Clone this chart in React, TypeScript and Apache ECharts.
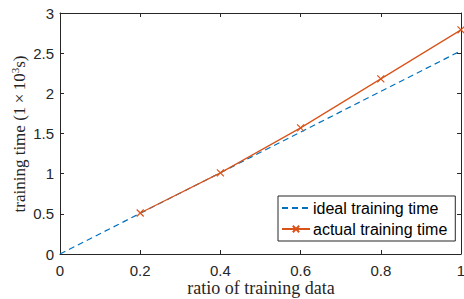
import React, { useEffect, useRef } from "react";
import * as echarts from "echarts";

const ratios = [0, 0.2, 0.4, 0.6, 0.8, 1.0];
const idealTime = [0, 0.506, 1.012, 1.518, 2.024, 2.53];
const actualRatios = [0.2, 0.4, 0.6, 0.8, 1.0];
const actualTime = [0.51, 1.01, 1.57, 2.18, 2.79];
const seriesNames = ["ideal training time", "actual training time"];
const xTitle = "ratio of training data";

const BLUE = "#0072BD";
const ORANGE = "#D95319";
const AX = "#262626";

export default function App() {
  const ref = useRef<HTMLDivElement>(null);
  useEffect(() => {
    const chart = echarts.init(ref.current!, null, { renderer: "svg" });
    const tickCommon = {
      axisLine: { show: true, onZero: false, lineStyle: { color: AX, width: 1 } },
      axisTick: { show: true, inside: true, length: 4, lineStyle: { color: AX, width: 1 } },
      splitLine: { show: false },
    };
    chart.setOption({
      animation: false,
      backgroundColor: "#fff",
      grid: { left: 60, right: 3, top: 13, bottom: 45, containLabel: false, outerBoundsMode: "none" },
      xAxis: [
        {
          type: "value",
          min: 0,
          max: 1,
          interval: 0.2,
          ...tickCommon,
          axisLabel: { color: AX, fontFamily: "Liberation Sans", fontSize: 15, margin: 9 },
        },
        {
          type: "value",
          position: "top",
          min: 0,
          max: 1,
          interval: 0.2,
          ...tickCommon,
          axisLabel: { show: false },
        },
      ],
      yAxis: [
        {
          type: "value",
          min: 0,
          max: 3,
          interval: 0.5,
          ...tickCommon,
          axisLabel: { color: AX, fontFamily: "Liberation Sans", fontSize: 15, margin: 6 },
        },
        {
          type: "value",
          position: "right",
          min: 0,
          max: 3,
          interval: 0.5,
          ...tickCommon,
          axisLabel: { show: false },
        },
      ],
      graphic: [
        {
          type: "text",
          x: 19,
          y: 134,
          rotation: Math.PI / 2,
          style: {
            text: "{a|training time (1\u2009×\u200910}{s|3}{a|s)}",
            align: "center",
            verticalAlign: "middle",
            rich: {
              a: { fill: AX, fontFamily: "Liberation Serif", fontSize: 17 },
              s: { fill: AX, fontFamily: "Liberation Serif", fontSize: 11, verticalAlign: "top", padding: [0, 0, 8, 0] },
            },
          },
        },
        {
          type: "text",
          x: 261,
          y: 288,
          style: {
            text: xTitle,
            align: "center",
            verticalAlign: "middle",
            fill: AX,
            fontFamily: "Liberation Serif",
            fontSize: 18,
          },
        },
      ],
      legend: {
        data: [
          { name: seriesNames[0], itemStyle: { color: "rgba(0,0,0,0)", borderWidth: 0, opacity: 0 } },
          { name: seriesNames[1] },
        ],
        orient: "vertical",
        left: 278,
        top: 196,
        itemWidth: 28,
        itemHeight: 8,
        itemGap: 5,
        padding: [4, 8, 4, 3],
        backgroundColor: "#fff",
        borderColor: AX,
        borderWidth: 1,
        borderRadius: 0,
        textStyle: { color: "#000", fontFamily: "Liberation Sans", fontSize: 16, padding: [0, 0, 0, -2] },
      },
      series: [
        {
          name: seriesNames[0],
          type: "line",
          data: ratios.map((r, i) => [r, idealTime[i]]),
          showSymbol: false,
          symbol: "none",
          lineStyle: { color: BLUE, width: 1.2, type: [6, 4] },
          itemStyle: { color: BLUE },
        },
        {
          name: seriesNames[1],
          type: "line",
          data: actualRatios.map((r, i) => [r, actualTime[i]]),
          symbol: "path://M0,0L10,10M10,0L0,10",
          symbolSize: 7,
          lineStyle: { color: ORANGE, width: 1.2 },
          itemStyle: { color: ORANGE, borderColor: ORANGE, borderWidth: 1.2 },
        },
      ],
    });
    return () => chart.dispose();
  }, []);
  return <div ref={ref} style={{ width: 464, height: 299, position: "absolute", left: 0, top: 0 }} />;
}
